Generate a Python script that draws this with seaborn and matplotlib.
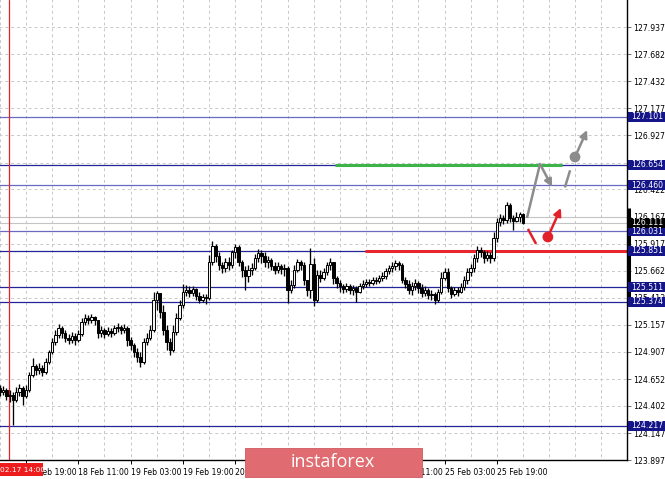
import numpy as np
import matplotlib
matplotlib.use('Agg')
import matplotlib.pyplot as plt
import matplotlib.transforms as mtransforms
from matplotlib.patches import Rectangle
import seaborn as sns

# hourly candles
first_open = 124.570
closes = [124.532, 124.551, 124.495, 124.504, 124.458, 124.532, 124.570, 124.495, 124.551, 124.691,
          124.775, 124.738, 124.756, 124.719, 124.812, 124.906, 124.999, 125.064, 125.129, 125.083,
          125.036, 125.017, 125.055, 125.017, 125.073, 125.185, 125.223, 125.204, 125.232, 125.204,
          125.083, 125.111, 125.073, 125.101, 125.083, 125.129, 125.139, 125.111, 125.129, 125.017,
          124.971, 124.906, 124.859, 124.812, 124.999, 125.036, 125.111, 125.391, 125.456, 125.279,
          125.111, 124.999, 124.924, 125.092, 125.223, 125.344, 125.465, 125.484, 125.456, 125.493,
          125.428, 125.391, 125.419, 125.409, 125.745, 125.894, 125.801, 125.717, 125.689, 125.745,
          125.717, 125.838, 125.885, 125.745, 125.670, 125.614, 125.670, 125.689, 125.782, 125.829,
          125.801, 125.745, 125.764, 125.708, 125.670, 125.708, 125.680, 125.689, 125.484, 125.531,
          125.670, 125.745, 125.717, 125.577, 125.484, 125.726, 125.391, 125.624, 125.596, 125.652,
          125.717, 125.745, 125.596, 125.549, 125.521, 125.493, 125.521, 125.484, 125.503, 125.465,
          125.521, 125.540, 125.559, 125.549, 125.577, 125.568, 125.596, 125.614, 125.661, 125.689,
          125.708, 125.736, 125.717, 125.577, 125.540, 125.484, 125.521, 125.549, 125.503, 125.456,
          125.484, 125.437, 125.447, 125.391, 125.465, 125.596, 125.652, 125.503, 125.447, 125.484,
          125.465, 125.512, 125.577, 125.652, 125.689, 125.782, 125.857, 125.838, 125.782, 125.810,
          125.782, 125.969, 126.118, 126.155, 126.137, 126.277, 126.155, 126.128, 126.165, 126.193,
          126.111]
highs = [124.598, 124.588, 124.570, 124.551, 124.532, 124.579, 124.607, 124.588, 124.598, 124.719,
         124.850, 124.794, 124.803, 124.784, 124.850, 124.924, 125.036, 125.111, 125.167, 125.148,
         125.111, 125.073, 125.092, 125.083, 125.111, 125.223, 125.260, 125.251, 125.260, 125.241,
         125.204, 125.148, 125.129, 125.139, 125.129, 125.157, 125.176, 125.157, 125.167, 125.148,
         125.045, 124.989, 124.943, 124.906, 125.036, 125.083, 125.157, 125.465, 125.475, 125.409,
         125.344, 125.157, 125.036, 125.157, 125.269, 125.391, 125.540, 125.531, 125.521, 125.521,
         125.503, 125.465, 125.447, 125.447, 125.810, 125.941, 125.913, 125.838, 125.745, 125.782,
         125.792, 125.857, 125.913, 125.904, 125.764, 125.708, 125.717, 125.736, 125.820, 125.866,
         125.857, 125.838, 125.801, 125.782, 125.745, 125.745, 125.726, 125.726, 125.708, 125.577,
         125.717, 125.773, 125.764, 125.745, 125.577, 125.876, 125.782, 125.670, 125.670, 125.689,
         125.745, 125.782, 125.745, 125.614, 125.577, 125.540, 125.549, 125.540, 125.531, 125.521,
         125.549, 125.577, 125.586, 125.586, 125.605, 125.605, 125.624, 125.652, 125.689, 125.717,
         125.745, 125.764, 125.754, 125.736, 125.605, 125.577, 125.559, 125.586, 125.568, 125.540,
         125.521, 125.503, 125.484, 125.465, 125.493, 125.652, 125.689, 125.689, 125.521, 125.512,
         125.512, 125.549, 125.614, 125.689, 125.726, 125.820, 125.894, 125.885, 125.857, 125.848,
         125.838, 126.025, 126.155, 126.193, 126.183, 126.305, 126.295, 126.183, 126.211, 126.211,
         126.202]
lows = [124.495, 124.504, 124.458, 124.439, 124.225, 124.439, 124.495, 124.411, 124.476, 124.532,
        124.672, 124.691, 124.700, 124.682, 124.700, 124.794, 124.887, 124.971, 125.036, 125.036,
        124.999, 124.980, 124.989, 124.971, 124.999, 125.055, 125.157, 125.167, 125.176, 125.157,
        125.036, 125.045, 125.036, 125.055, 125.045, 125.064, 125.092, 125.073, 125.083, 124.962,
        124.924, 124.859, 124.812, 124.766, 124.794, 124.971, 125.017, 125.092, 125.297, 125.223,
        125.064, 124.924, 124.878, 124.906, 125.064, 125.204, 125.316, 125.428, 125.419, 125.428,
        125.391, 125.363, 125.372, 125.353, 125.391, 125.717, 125.745, 125.670, 125.642, 125.652,
        125.670, 125.689, 125.782, 125.708, 125.605, 125.484, 125.559, 125.624, 125.670, 125.745,
        125.736, 125.698, 125.689, 125.670, 125.633, 125.642, 125.633, 125.614, 125.363, 125.456,
        125.503, 125.652, 125.670, 125.531, 125.428, 125.409, 125.335, 125.372, 125.559, 125.577,
        125.624, 125.670, 125.540, 125.503, 125.465, 125.456, 125.465, 125.447, 125.437, 125.372,
        125.456, 125.493, 125.512, 125.521, 125.531, 125.540, 125.549, 125.568, 125.586, 125.633,
        125.652, 125.670, 125.670, 125.549, 125.503, 125.447, 125.437, 125.484, 125.456, 125.419,
        125.428, 125.400, 125.391, 125.353, 125.372, 125.447, 125.577, 125.465, 125.409, 125.428,
        125.428, 125.456, 125.484, 125.540, 125.614, 125.652, 125.745, 125.792, 125.736, 125.754,
        125.736, 125.754, 125.932, 126.081, 126.100, 126.109, 126.118, 126.044, 126.118, 126.118,
        126.100]

y_ticks = [127.937, 127.682, 127.432, 127.177, 126.927, 126.672, 126.422, 126.167, 125.917,
           125.662, 125.412, 125.157, 124.907, 124.652, 124.402, 124.147, 123.897]
hidden_y_ticks = [126.672]
x_tick_bars = [8, 24, 40, 56, 72, 88, 104, 120, 136, 152]
x_tick_labels = ['17 Feb 19:00', '18 Feb 11:00', '19 Feb 03:00', '19 Feb 19:00', '20 Feb 11:00',
                 '21 Feb 03:00', '21 Feb 19:00', '24 Feb 11:00', '25 Feb 03:00', '25 Feb 19:00']

levels_dark = [126.654, 125.851, 125.511, 125.374, 124.217]
levels_light = [127.101, 126.460, 126.031]
bid_price = 126.111
ask_line = 126.167
cursor_bar = 2.8
cursor_label = '02.17 14:00'
day_range = (125.344, 126.250)

green_level = (102.5, 171.9, 126.654)
red_level = (111.7, 192.0, 125.851)

# forecast sketch (bar index, price)
gray_path = [(161.2, 126.155), (165.2, 126.659)]
gray_arrow1 = ((165.2, 126.659), (168.9, 126.444))
gray_dash = [(172.8, 126.440), (174.4, 126.600)]
gray_dot = (175.9, 126.724)
gray_arrow2 = ((175.9, 126.724), (179.6, 126.976))
red_dash = [(161.5, 126.053), (164.0, 125.913)]
red_dot = (167.6, 125.978)
red_arrow = ((167.6, 125.978), (171.6, 126.249))

sns.set_theme(style='white')
plt.rcParams['font.family'] = ['DejaVu Sans']

W, H = 665, 479
fig = plt.figure(figsize=(W / 100, H / 100), dpi=100, facecolor='white')
ax = fig.add_axes([0, 19 / H, 627 / W, 460 / H])
ax.set_facecolor('white')

n = len(closes)
idx = np.arange(n)
opens = np.array([first_open] + closes[:-1])
closes_a = np.array(closes)
hi = np.maximum.reduce([np.array(highs), opens, closes_a])
lo = np.minimum.reduce([np.array(lows), opens, closes_a])

# grid
grid_kw = dict(color='#c8c8c8', lw=0.7, linestyles=(0, (3, 3)), zorder=0)
ax.vlines(np.arange(0, 200, 8), 123.0, 129.0, **grid_kw)
ax.hlines(y_ticks, -5, 200, **grid_kw)

# level lines
ax.hlines(levels_dark, -5, 200, color='#23239a', lw=0.9, zorder=1)
ax.hlines(levels_light, -5, 200, color='#6a6ac4', lw=0.9, zorder=1)
ax.hlines([ask_line, bid_price], -5, 200, color='#c4c4c4', lw=0.8, zorder=1)
ax.axvline(cursor_bar, color='#e8202a', lw=0.9, zorder=1)

# candles
ax.vlines(idx, lo, hi, color='black', lw=0.95, zorder=3)
bull = closes_a >= opens
body_lo = np.minimum(opens, closes_a)
body_h = np.maximum(np.abs(closes_a - opens), 0.005)
ax.bar(idx[bull], body_h[bull], bottom=body_lo[bull], width=0.75,
       color='#f4f4f4', edgecolor='black', linewidth=0.7, zorder=4)
ax.bar(idx[~bull], body_h[~bull], bottom=body_lo[~bull], width=0.75,
       color='black', edgecolor='black', linewidth=0.7, zorder=4)

# support / resistance highlights
ax.hlines(green_level[2], green_level[0], green_level[1], color='#3db449', lw=2.2, zorder=2)
ax.hlines(red_level[2], red_level[0], red_level[1], color='#e8262e', lw=2.2, zorder=2)

# forecast arrows
gray = '#8c8c8c'
red = '#e3202a'
ax.plot(*zip(*gray_path), color=gray, lw=1.8, solid_capstyle='butt', zorder=5)
ax.plot(*zip(*gray_dash), color=gray, lw=1.8, solid_capstyle='butt', zorder=5)
ax.plot(*zip(*red_dash), color=red, lw=1.8, solid_capstyle='butt', zorder=5)
for (start, end), c in [(gray_arrow1, gray), (gray_arrow2, gray), (red_arrow, red)]:
    ax.annotate('', xy=end, xytext=start,
                arrowprops=dict(arrowstyle='-|>', color=c, lw=1.8,
                                mutation_scale=11, shrinkA=0, shrinkB=0),
                zorder=5)
sns.scatterplot(x=[gray_dot[0], red_dot[0]], y=[gray_dot[1], red_dot[1]],
                hue=['g', 'r'], palette={'g': gray, 'r': red}, s=60,
                edgecolor='none', legend=False, ax=ax, zorder=6)

ax.set_xlim(0.05, 191.8)
ax.set_ylim(123.897, 128.189)

# axes styling
for side in ['left', 'top']:
    ax.spines[side].set_visible(False)
for side in ['right', 'bottom']:
    ax.spines[side].set_color('black')
    ax.spines[side].set_linewidth(1.0)

ax.yaxis.tick_right()
ax.set_yticks(y_ticks)
ax.set_yticklabels(['' if v in hidden_y_ticks else f'{v:.3f}' for v in y_ticks])
ax.set_xticks(x_tick_bars)
ax.set_xticklabels(x_tick_labels)
for lab in ax.get_xticklabels():
    lab.set_horizontalalignment('left')
ax.tick_params(axis='y', right=True, length=3, width=0.7, color='#707070',
               labelsize=5.6, pad=1.5, labelcolor='black')
ax.tick_params(axis='x', bottom=True, length=3, width=0.7, color='black',
               labelsize=5.6, pad=3, labelcolor='black')

trans = mtransforms.blended_transform_factory(ax.transAxes, ax.transData)
ax.plot([1.0025, 1.0025], list(day_range), color='black', lw=2.2,
        transform=trans, clip_on=False, zorder=7, solid_capstyle='butt')

box_h = 10 / 107.2
for lvl in levels_dark + levels_light + [bid_price]:
    fc = 'black' if lvl == bid_price else '#15158a'
    ax.add_patch(Rectangle((628 / 627, lvl - box_h / 2), 37 / 627, box_h,
                           transform=trans, clip_on=False, facecolor=fc,
                           edgecolor='none', zorder=8))
    ax.text(631 / 627, lvl, f'{lvl:.3f}', transform=trans, color='white',
            fontsize=5.6, va='center', ha='left', clip_on=False, zorder=9)

# cursor date label
fig.patches.append(Rectangle((0, (H - 476) / H), 43 / W, 13 / H,
                             transform=fig.transFigure, facecolor='#ee1c1c',
                             edgecolor='none', zorder=5))
fig.text(0.5 / W, (H - 469.5) / H, cursor_label, color='white', fontsize=5.3,
         va='center', ha='left', zorder=6)

# watermark
fig.patches.append(Rectangle((245 / W, (H - 477) / H), 177 / W, 29 / H,
                             transform=fig.transFigure, facecolor='#e06b70',
                             edgecolor='#d05a60', lw=0.6, zorder=5))
fig.text(333 / W, (H - 462) / H, 'instaforex', color='white', fontsize=13,
         family=['Open Sans', 'DejaVu Sans'], va='center', ha='center', zorder=6)

fig.savefig('out.png', dpi=100, facecolor='white')
